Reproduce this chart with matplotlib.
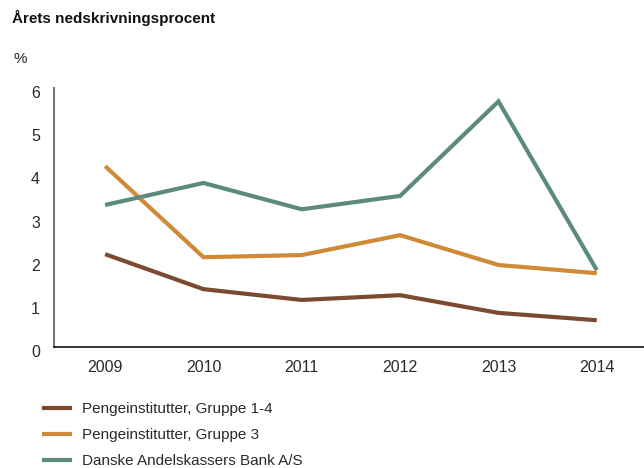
import matplotlib
matplotlib.use("Agg")
import matplotlib.pyplot as plt
import matplotlib.transforms as mtransforms
from matplotlib.lines import Line2D

plt.rcParams['font.family'] = ['Liberation Sans', 'DejaVu Sans']

years = [2009, 2010, 2011, 2012, 2013, 2014]
gruppe_1_4 = [2.15, 1.34, 1.09, 1.20, 0.79, 0.62]
gruppe_3 = [4.19, 2.08, 2.13, 2.59, 1.90, 1.71]
dab = [3.29, 3.80, 3.19, 3.50, 5.69, 1.78]

series_names = ["Pengeinstitutter, Gruppe 1-4",
                "Pengeinstitutter, Gruppe 3",
                "Danske Andelskassers Bank A/S"]
colors = ["#7B4A2F", "#D08A37", "#5C8A7C"]

fig = plt.figure(figsize=(6.44, 4.68), dpi=100)
ax = fig.add_axes([54/644, 121/468, 590/644, 259/468])

for vals, c in zip([gruppe_1_4, gruppe_3, dab], colors):
    ax.plot(years, vals, color=c, lw=3.0, solid_capstyle='butt', solid_joinstyle='miter')

ax.set_xlim(2008.48, 2014.48)
ax.set_ylim(0, 6)
ax.set_xticks(years)
ax.set_xticklabels([str(y) for y in years])
ax.set_yticks(range(0, 7))
ax.tick_params(length=0, labelsize=11.5, colors="#2a2a2a")
ax.tick_params(axis='y', pad=10)
ax.tick_params(axis='x', pad=9)
shift = mtransforms.ScaledTranslation(0, -4/100, fig.dpi_scale_trans)
for lbl in ax.get_yticklabels():
    lbl.set_transform(lbl.get_transform() + shift)
ax.spines['top'].set_visible(False)
ax.spines['right'].set_visible(False)
ax.spines['left'].set_color("#777777")
ax.spines['left'].set_linewidth(1.5)
ax.spines['bottom'].set_color("#111111")
ax.spines['bottom'].set_linewidth(1.2)

fig.text(12/644, 1 - 18/468, "Årets nedskrivningsprocent", fontsize=11,
         fontweight='bold', va='center', ha='left', color="#111111")
fig.text(13/644, 1 - 59/468, "%", fontsize=11, va='center', ha='left', color="#2a2a2a")

handles = [Line2D([0], [0], color=c, lw=3.0) for c in colors]
fig.legend(handles, series_names, loc='upper left', bbox_to_anchor=(38/644, 1 - 396/468),
           frameon=False, fontsize=11, handlelength=1.7, handletextpad=0.8,
           labelspacing=0.78, borderaxespad=0, labelcolor="#2a2a2a")

fig.savefig("out.png", dpi=100)
